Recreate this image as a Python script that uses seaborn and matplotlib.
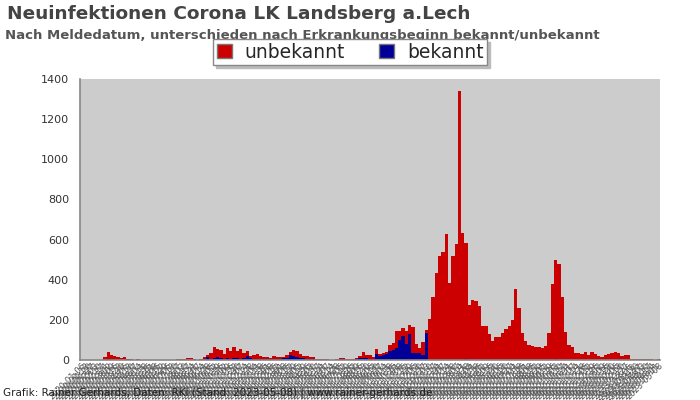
import numpy as np
import pandas as pd
import seaborn as sns
import matplotlib.pyplot as plt
from matplotlib.patches import Patch

# weekly bars, Meldedatum
weeks = pd.date_range("2020-01-06", "2023-05-08", freq="7D")
week_labels = weeks.strftime("%Y-%m-%d").tolist()

# cases with Erkrankungsbeginn bekannt
bekannt = [
    0, 0, 0, 0, 0, 0, 0, 2, 3, 2, 2, 1, 1, 2, 3, 1, 0, 0, 0, 0,
    0, 0, 0, 0, 0, 0, 0, 0, 0, 0, 0, 0, 0, 0, 0, 0, 1, 3, 13, 5,
    12, 15, 8, 5, 8, 6, 10, 8, 6, 10, 22, 8, 6, 5, 4, 3, 4, 3, 5, 4,
    6, 10, 12, 23, 20, 17, 10, 8, 6, 4, 3, 2, 2, 2, 2, 0, 0, 2, 3, 3,
    2, 2, 2, 5, 8, 10, 8, 6, 5, 30, 20, 25, 30, 45, 50, 58, 100, 120, 80, 130,
    33, 33, 33, 25, 135, 0, 0, 0, 0, 0, 0, 0, 0, 0, 0, 0, 3, 0, 0, 0,
    0, 0, 0, 0, 0, 0, 0, 0, 0, 0, 0, 0, 0, 0, 0, 0, 0, 0, 0, 0,
    0, 0, 0, 3, 0, 0, 0, 0, 0, 0, 0, 0, 0, 0, 0, 0, 0, 0, 0, 0,
    0, 0, 3, 0, 0, 0, 0, 0, 0, 0, 0, 0, 0, 0, 0,
]

# cases with Erkrankungsbeginn unbekannt
unbekannt = [
    0, 0, 0, 0, 0, 0, 0, 13, 37, 23, 18, 12, 7, 15, 2, 2, 2, 4, 0, 0,
    1, 0, 0, 0, 0, 1, 0, 0, 1, 5, 5, 5, 10, 10, 5, 2, 4, 12, 12, 32,
    51, 40, 42, 27, 50, 39, 55, 37, 47, 27, 21, 12, 19, 23, 16, 14, 9, 5, 15, 9,
    7, 3, 13, 15, 30, 28, 18, 12, 14, 9, 10, 3, 3, 3, 3, 0, 0, 3, 7, 5,
    5, 3, 3, 5, 14, 30, 17, 19, 8, 25, 10, 10, 10, 30, 35, 87, 45, 40, 65, 45,
    130, 47, 27, 65, 15, 205, 315, 432, 520, 540, 630, 385, 520, 580, 1338, 633, 582, 275, 300, 295,
    270, 170, 167, 130, 95, 113, 117, 133, 153, 170, 200, 353, 260, 137, 95, 75, 72, 63, 63, 58,
    72, 133, 378, 495, 480, 313, 140, 75, 63, 33, 33, 28, 38, 25, 38, 30, 22, 17, 25, 28,
    37, 38, 32, 20, 25, 25, 5, 5, 5, 5, 5, 3, 3, 0, 3,
]

gesamt = [u + b for u, b in zip(unbekannt, bekannt)]

rot = "#cc0000"
blau = "#000099"

sns.set_style("white")
plt.rcParams["font.family"] = ["DejaVu Sans"]

fig = plt.figure(figsize=(7, 4), dpi=100)
ax = fig.add_axes([80 / 700, 40 / 400, 580 / 700, 281 / 400])
ax.set_facecolor("#cccccc")

# stacked look: total in red, bekannt in blue drawn over the bottom part
sns.barplot(x=week_labels, y=gesamt, color=rot, width=1.0, linewidth=0,
            saturation=1, ax=ax)
sns.barplot(x=week_labels, y=bekannt, color=blau, width=1.0, linewidth=0,
            saturation=1, ax=ax)

ax.set_ylim(0, 1400)
ax.set_yticks(range(0, 1401, 200))
ax.set_xlim(-0.5, len(week_labels) - 0.5)
ax.tick_params(axis="y", length=0, pad=8, labelsize=8, labelcolor="#333333")
ax.tick_params(axis="x", length=0, pad=1, labelsize=6, labelcolor="#555555")
plt.setp(ax.get_xticklabels(), rotation=45, ha="right", rotation_mode="anchor")
ax.set_xlabel("")
ax.set_ylabel("")
for side in ["top", "right"]:
    ax.spines[side].set_visible(False)
for side in ["left", "bottom"]:
    ax.spines[side].set_color("#888888")
    ax.spines[side].set_linewidth(1.2)

fig.text(7 / 700, 1 - 14 / 400, "Neuinfektionen Corona LK Landsberg a.Lech",
         fontsize=13.3, fontweight="bold", color="#444444", va="center")
fig.text(5 / 700, 1 - 35 / 400,
         "Nach Meldedatum, unterschieden nach Erkrankungsbeginn bekannt/unbekannt",
         fontsize=9.5, fontweight="bold", color="#555555", va="center")
fig.text(3 / 700, 1 - 393 / 400,
         "Grafik: Rainer Gerhards, Daten: RKI (Stand: 2023-05-08) | www.rainer-gerhards.de",
         fontsize=7.5, color="#222222", va="center")

handles = [Patch(facecolor=rot, edgecolor="#777777", label="unbekannt"),
           Patch(facecolor=blau, edgecolor="#777777", label="bekannt")]
fig.legend(handles=handles, loc="center", bbox_to_anchor=(350 / 700, 1 - 52 / 400),
           ncol=2, fontsize=13.5, frameon=True, fancybox=False,
           shadow={"color": "#bbbbbb", "alpha": 1.0},
           edgecolor="#888888", handlelength=0.8, handleheight=0.8,
           columnspacing=1.8, handletextpad=0.7, borderpad=0.2, borderaxespad=0)

fig.savefig("out.png", dpi=100)
plt.close(fig)
